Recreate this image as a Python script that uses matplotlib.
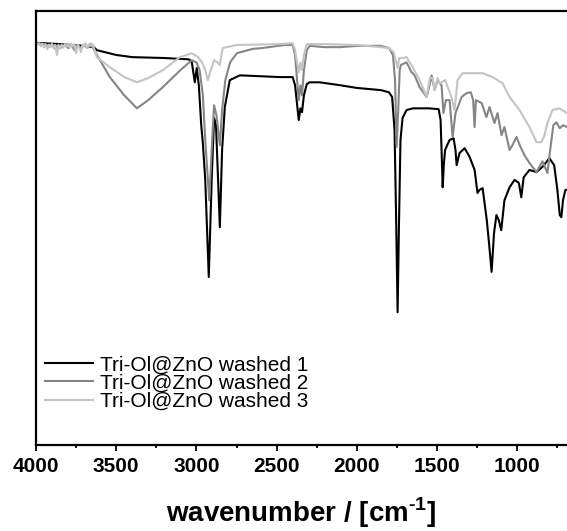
import numpy as np
import matplotlib
matplotlib.use("Agg")
import matplotlib.pyplot as plt
from matplotlib.ticker import MultipleLocator

plt.rcParams['font.family'] = ['Liberation Sans', 'DejaVu Sans']
plt.rcParams['mathtext.fontset'] = 'custom'
plt.rcParams['mathtext.rm'] = 'Liberation Sans:bold'
plt.rcParams['mathtext.bf'] = 'Liberation Sans:bold'

# FTIR spectra, transmittance in arbitrary units (0-100)
wn_washed1 = [4000, 3850, 3700, 3640, 3620, 3500, 3400, 3200, 3050, 3030, 3010, 2998, 2985,
              2970, 2960, 2945, 2923, 2905, 2890, 2878, 2865, 2854, 2840, 2823, 2792,
              2730, 2600, 2480, 2400, 2385, 2370, 2362, 2352, 2342, 2330, 2312, 2294,
              2232, 2100, 2000, 1850, 1800, 1780, 1765, 1755, 1746, 1738, 1728, 1715,
              1690, 1650, 1550, 1490, 1478, 1470, 1465, 1458, 1450, 1422, 1397, 1385,
              1378, 1360, 1328, 1297, 1266, 1248, 1235, 1216, 1190, 1175, 1160, 1145,
              1130, 1115, 1100, 1080, 1048, 1017, 990, 975, 960, 924, 880, 843,
              800, 770, 750, 735, 725, 715, 700, 690]
t_washed1 = [92.7, 92.4, 92.0, 91.7, 91.0, 89.9, 89.4, 89.2, 88.9, 88.5, 83.6, 86.9, 82.9,
             73.7, 69.6, 61.1, 38.7, 61.1, 75.4, 73.7, 61.1, 50.2, 68.0, 77.9, 84.1,
             85.2, 85.0, 84.8, 84.8, 82.9, 77.6, 74.9, 77.6, 76.7, 80.6, 83.2, 83.6,
             83.6, 82.9, 82.3, 81.8, 81.3, 80.2, 72.6, 51.8, 30.6, 49.5, 70.3, 75.4,
             77.2, 77.6, 77.6, 77.4, 74.9, 65.7, 59.4, 64.5, 68.0, 70.3, 70.7, 68.0,
             64.5, 67.3, 68.4, 66.4, 63.4, 58.1, 58.8, 59.2, 51.8, 46.1, 39.9, 48.8,
             53.0, 51.8, 49.5, 56.4, 59.4, 61.1, 60.4, 57.1, 61.7, 63.4, 62.9, 64.1,
             66.1, 64.5, 58.8, 53.0, 52.5, 56.4, 58.8, 58.8]

wn_washed2 = [4000, 3950, 3920, 3900, 3880, 3860, 3840, 3820, 3800, 3780, 3760, 3740,
              3720, 3700, 3680, 3660, 3640, 3620, 3540,
              3450, 3371, 3300, 3209, 3100, 3029, 3000, 2980, 2960, 2945, 2920, 2905,
              2890, 2875, 2854, 2840, 2820, 2790, 2748, 2650, 2587, 2450, 2400, 2385,
              2370, 2362, 2352, 2342, 2330, 2312, 2294, 2200, 2100, 2000, 1850, 1800,
              1775, 1762, 1752, 1742, 1733, 1725, 1690, 1660, 1640, 1609, 1565, 1547,
              1534, 1515, 1497, 1472, 1460, 1445, 1422, 1403, 1385, 1347, 1316, 1290,
              1275, 1266, 1258, 1222, 1192, 1173, 1142, 1123, 1098, 1080, 1048, 1030,
              1005, 980, 955, 924, 880, 843, 820, 812, 795, 775, 756, 735, 715, 690]
t_washed2 = [92.7, 92.4, 91.8, 92.2, 91.3, 92.3, 91.6, 92.2, 91.5, 92.3, 91.0, 92.2,
             91.4, 92.3, 91.5, 92.4, 91.2, 89.9, 84.8,
             80.6, 77.6, 79.5, 82.5, 86.4, 88.7, 88.2, 86.4, 80.6, 70.3, 56.4, 68.0,
             78.3, 76.0, 69.1, 77.2, 84.1, 88.2, 90.3, 91.3, 91.5, 92.2, 92.2, 89.9,
             82.9, 79.5, 82.9, 80.6, 86.4, 91.0, 92.0, 91.7, 91.7, 92.0, 92.0, 91.5,
             89.9, 84.1, 68.7, 77.2, 86.4, 87.6, 88.2, 86.0, 85.2, 82.5, 80.2, 82.9,
             85.2, 81.8, 84.1, 82.9, 76.5, 79.5, 79.5, 71.0, 76.5, 80.2, 81.1, 81.3,
             79.5, 73.3, 79.5, 78.8, 75.6, 77.9, 74.2, 76.5, 71.4, 73.3, 68.0, 69.1,
             71.0, 68.7, 66.8, 65.0, 62.9, 65.4, 63.4, 62.7, 68.0, 73.7, 74.4, 73.0,
             73.7, 73.3]

wn_washed3 = [4000, 3990, 3980, 3970, 3960, 3950, 3940, 3930, 3920, 3910, 3900, 3890,
              3880, 3870, 3860, 3850, 3840, 3830, 3820, 3810, 3800, 3790, 3780, 3770,
              3760, 3750, 3740, 3730, 3720, 3710, 3700, 3690, 3680, 3670, 3660, 3650,
              3640, 3620, 3540, 3450, 3371, 3300, 3209, 3103, 3029, 2990,
              2965, 2945, 2929, 2915, 2890, 2870, 2854, 2836, 2748, 2500, 2400, 2385,
              2370, 2362, 2352, 2342, 2330, 2312, 2200, 2000, 1850, 1800, 1770, 1755,
              1746, 1736, 1715, 1690, 1652, 1609, 1590, 1565, 1545, 1528, 1515, 1497,
              1484, 1450, 1410, 1391, 1372, 1341, 1297, 1216, 1154, 1092, 1048, 986,
              924, 880, 849, 830, 812, 781, 737, 690]
t_washed3 = [92.7, 92.3, 92.6, 91.9, 92.5, 91.6, 92.4, 91.2, 92.3, 91.7, 92.5, 91.4,
             92.2, 89.9, 92.1, 91.3, 92.3, 91.6, 92.4, 91.8, 92.6, 91.5, 92.5, 91.9,
             92.4, 90.3, 92.2, 91.6, 90.6, 92.3, 91.8, 92.6, 91.5, 92.4, 92.0, 92.5,
             91.6, 89.4, 87.1, 84.8, 83.6, 84.6, 86.4, 89.4, 90.3, 89.4,
             88.2, 86.4, 84.1, 85.9, 88.7, 88.2, 87.6, 91.5, 92.2, 92.4, 92.6, 91.0,
             87.6, 85.9, 88.2, 86.4, 89.9, 92.4, 92.4, 92.2, 91.7, 91.5, 90.5, 88.2,
             86.9, 89.2, 89.2, 89.4, 87.1, 84.1, 82.5, 80.2, 84.6, 84.6, 81.8, 84.6,
             83.4, 84.1, 80.2, 77.2, 84.1, 85.7, 85.7, 85.7, 84.8, 83.4, 80.2, 77.2,
             73.3, 69.8, 69.8, 71.4, 74.2, 77.2, 77.6, 76.5]

labels = ['Tri-Ol@ZnO washed 1', 'Tri-Ol@ZnO washed 2', 'Tri-Ol@ZnO washed 3']
colors = ['#000000', '#858585', '#c4c4c4']


def main():
    fig = plt.figure(figsize=(5.67, 5.31), dpi=100)
    ax = fig.add_axes([0.0635, 0.162, 0.9365, 0.817])

    spectra = [(wn_washed1, t_washed1), (wn_washed2, t_washed2), (wn_washed3, t_washed3)]
    for (wn, t), label, color in zip(spectra, labels, colors):
        ax.plot(wn, t, color=color, lw=1.5, label=label)

    ax.set_xlim(4000, 690)
    ax.set_ylim(0, 100)
    ax.xaxis.set_major_locator(MultipleLocator(500))
    ax.xaxis.set_minor_locator(MultipleLocator(250))
    ax.set_yticks([])

    for side in ['left', 'top', 'bottom']:
        ax.spines[side].set_linewidth(1.6)
    ax.spines['right'].set_visible(False)

    ax.tick_params(axis='x', which='major', direction='out', length=4.5, width=1.3,
                   pad=4, labelsize=15)
    ax.tick_params(axis='x', which='minor', direction='out', length=2.5, width=1.3)
    for lbl in ax.get_xticklabels():
        lbl.set_fontweight('bold')

    ax.set_xlabel('wavenumber / [cm$^{\\text{-1}}$]', fontsize=20,
                  fontweight='bold', labelpad=14)

    ax.legend(loc='lower left', bbox_to_anchor=(0.017, 0.078), frameon=False,
              fontsize=15, handlelength=2.3, handletextpad=0.34,
              labelspacing=-0.03, borderpad=0, borderaxespad=0)

    fig.savefig('out.png', dpi=100)
    plt.close(fig)


if __name__ == "__main__":
    main()
